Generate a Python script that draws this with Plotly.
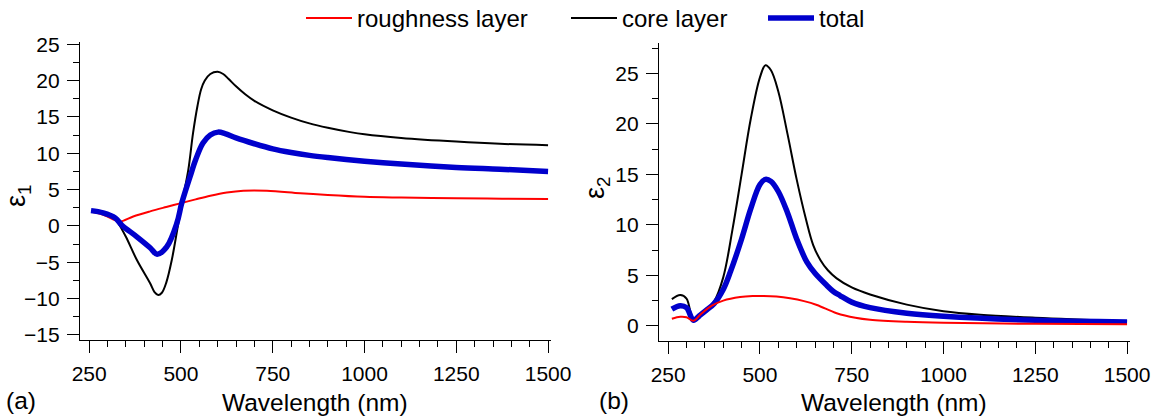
import plotly.graph_objects as go

# ---- Data: (a) epsilon_1 ----
wl_rough_e1 = [260, 290, 320, 334, 370, 416, 460, 498, 540, 580, 625, 670, 734, 825, 900, 1000, 1100, 1250, 1375, 1500]
rough_e1 = [1.9, 1.5, 0.8, 0.6, 1.3, 2.0, 2.6, 3.1, 3.65, 4.15, 4.6, 4.85, 4.85, 4.5, 4.25, 4.0, 3.9, 3.8, 3.75, 3.7]

wl_core_e1 = [260, 280, 300, 320, 329, 350, 380, 416, 428, 438, 448, 460, 475, 493, 506, 520, 533, 545, 555, 565, 580, 600, 615, 630, 650, 675, 700, 750, 800, 850, 900, 961, 1000, 1100, 1250, 1369, 1500]
core_e1 = [2.0, 1.9, 1.6, 1.0, 0.4, -1.5, -4.7, -7.9, -9.1, -9.5, -9.2, -7.8, -4.7, 0.4, 4.0, 7.7, 12.8, 16.5, 18.8, 20.0, 20.9, 21.2, 20.9, 20.2, 19.2, 18.1, 17.2, 15.9, 14.9, 14.1, 13.5, 12.9, 12.6, 12.1, 11.6, 11.3, 11.1]

wl_total_e1 = [255, 288, 321, 339, 380, 416, 435, 461, 489, 502, 525, 540, 560, 580, 601, 620, 650, 700, 750, 800, 850, 900, 1000, 1100, 1250, 1369, 1500]
total_e1 = [2.1, 1.8, 1.1, 0.1, -1.5, -3.0, -3.9, -2.9, 0.4, 3.1, 6.8, 9.1, 11.4, 12.5, 12.9, 12.7, 12.1, 11.3, 10.6, 10.1, 9.7, 9.4, 8.9, 8.5, 8.05, 7.8, 7.5]

# ---- Data: (b) epsilon_2 ----
wl_rough_e2 = [260, 283, 300, 319, 340, 369, 400, 446, 480, 510, 545, 582, 620, 655, 709, 760, 800, 900, 1000, 1250, 1500]
rough_e2 = [0.7, 0.9, 0.85, 0.5, 1.2, 2.0, 2.5, 2.85, 2.95, 2.96, 2.9, 2.73, 2.45, 2.07, 1.25, 0.8, 0.6, 0.4, 0.3, 0.2, 0.15]

wl_core_e2 = [260, 283, 300, 319, 335, 355, 375, 400, 425, 450, 475, 500, 515, 530, 550, 575, 600, 625, 645, 665, 685, 709, 750, 800, 900, 1000, 1100, 1250, 1500]
core_e2 = [2.65, 3.05, 2.7, 0.55, 1.0, 1.6, 2.4, 4.8, 9.5, 15.0, 20.5, 24.6, 25.8, 25.3, 23.2, 19.0, 14.5, 10.6, 8.0, 6.5, 5.5, 4.7, 3.8, 3.1, 2.1, 1.45, 1.1, 0.8, 0.45]

wl_total_e2 = [260, 283, 300, 319, 335, 355, 375, 400, 420, 450, 475, 500, 515, 530, 550, 575, 600, 628, 650, 682, 700, 718, 750, 800, 900, 1000, 1250, 1500]
total_e2 = [1.65, 2.0, 1.8, 0.55, 1.0, 1.58, 2.2, 3.6, 5.4, 8.6, 11.6, 14.0, 14.5, 14.3, 13.3, 11.2, 8.6, 6.3, 5.2, 4.0, 3.4, 3.0, 2.35, 1.8, 1.25, 0.95, 0.55, 0.38]

x_ticks = [250, 500, 750, 1000, 1250, 1500]

RED = "#FF0000"
BLACK = "#000000"
BLUE = "#0000CC"
FONT = "Liberation Sans, Arial, sans-serif"

fig = go.Figure()

def add(x, y, name, color, width, xa, ya, show, leg):
    fig.add_trace(go.Scatter(x=x, y=y, mode="lines", name=name,
                             line=dict(color=color, width=width, shape="spline", smoothing=1.0),
                             xaxis=xa, yaxis=ya, showlegend=show, legend=leg))

add(wl_rough_e1, rough_e1, "roughness layer", RED, 2, "x", "y", True, "legend")
add(wl_core_e1, core_e1, "core layer", BLACK, 2, "x", "y", True, "legend2")
add(wl_total_e1, total_e1, "total", BLUE, 5.5, "x", "y", True, "legend3")
add(wl_core_e2, core_e2, "core layer", BLACK, 2, "x2", "y2", False, "legend2")
add(wl_total_e2, total_e2, "total", BLUE, 5.5, "x2", "y2", False, "legend3")
add(wl_rough_e2, rough_e2, "roughness layer", RED, 2, "x2", "y2", False, "legend")

W, H = 1151, 420

def ax_common():
    return dict(showline=True, linecolor="black", linewidth=1.3, ticks="outside",
                ticklen=12, tickwidth=1.3, tickcolor="black", showgrid=False, zeroline=False,
                automargin=False, ticklabelstandoff=3,
                tickfont=dict(family=FONT, size=21, color="black"))

xa = ax_common()
xa.update(range=[225, 1508], tickvals=x_ticks,
          minor=dict(ticks="outside", ticklen=6, tickwidth=1.3, tickcolor="black", dtick=50, tick0=250))

def ya(rng):
    d = ax_common()
    d.update(range=rng, dtick=5, tick0=0,
             minor=dict(ticks="outside", ticklen=6, tickwidth=1.3, tickcolor="black", dtick=2.5, tick0=0))
    return d

TITLE_FONT = dict(family=FONT, size=24.5, color="black")

def leg(xpx):
    return dict(orientation="h", x=xpx / W, xanchor="left", y=1.01, yanchor="top",
                font=dict(family=FONT, size=24, color="black"), bgcolor="rgba(0,0,0,0)",
                itemwidth=46)

fig.update_layout(
    template="none",
    width=W, height=H,
    margin=dict(l=0, r=0, t=0, b=0, autoexpand=False),
    paper_bgcolor="white", plot_bgcolor="white",
    xaxis=dict(xa, domain=[80 / W, 551 / W], anchor="y"),
    yaxis=dict(ya([-15.7, 25.3]), domain=[(H - 340) / H, (H - 42) / H], anchor="x"),
    xaxis2=dict(xa, domain=[659 / W, 1130 / W], anchor="y2"),
    yaxis2=dict(ya([-1.5, 28]), domain=[(H - 341) / H, (H - 43) / H], anchor="x2"),
    legend=leg(301),
    legend2=leg(566),
    legend3=leg(763),
    annotations=[
        dict(text="Wavelength (nm)", x=315 / W, y=(H - 402) / H, xref="paper", yref="paper",
             xanchor="center", yanchor="middle", showarrow=False, font=TITLE_FONT),
        dict(text="Wavelength (nm)", x=894 / W, y=(H - 402) / H, xref="paper", yref="paper",
             xanchor="center", yanchor="middle", showarrow=False, font=TITLE_FONT),
        dict(text="(a)", x=4 / W, y=(H - 400) / H, xref="paper", yref="paper", xanchor="left", yanchor="middle",
             showarrow=False, font=TITLE_FONT),
        dict(text="(b)", x=597 / W, y=(H - 400) / H, xref="paper", yref="paper", xanchor="left", yanchor="middle",
             showarrow=False, font=TITLE_FONT),
        dict(text="ε<sub>1</sub>", x=18 / W, y=(H - 196) / H, xref="paper", yref="paper", xanchor="center",
             yanchor="middle", textangle=-90, showarrow=False, font=dict(family=FONT, size=27, color="black")),
        dict(text="ε<sub>2</sub>", x=597 / W, y=(H - 188) / H, xref="paper", yref="paper", xanchor="center",
             yanchor="middle", textangle=-90, showarrow=False, font=dict(family=FONT, size=27, color="black")),
    ],
)

fig.write_html("out.html", config={"displayModeBar": False},
               post_script="document.body.style.margin='0';document.body.style.padding='0';")
